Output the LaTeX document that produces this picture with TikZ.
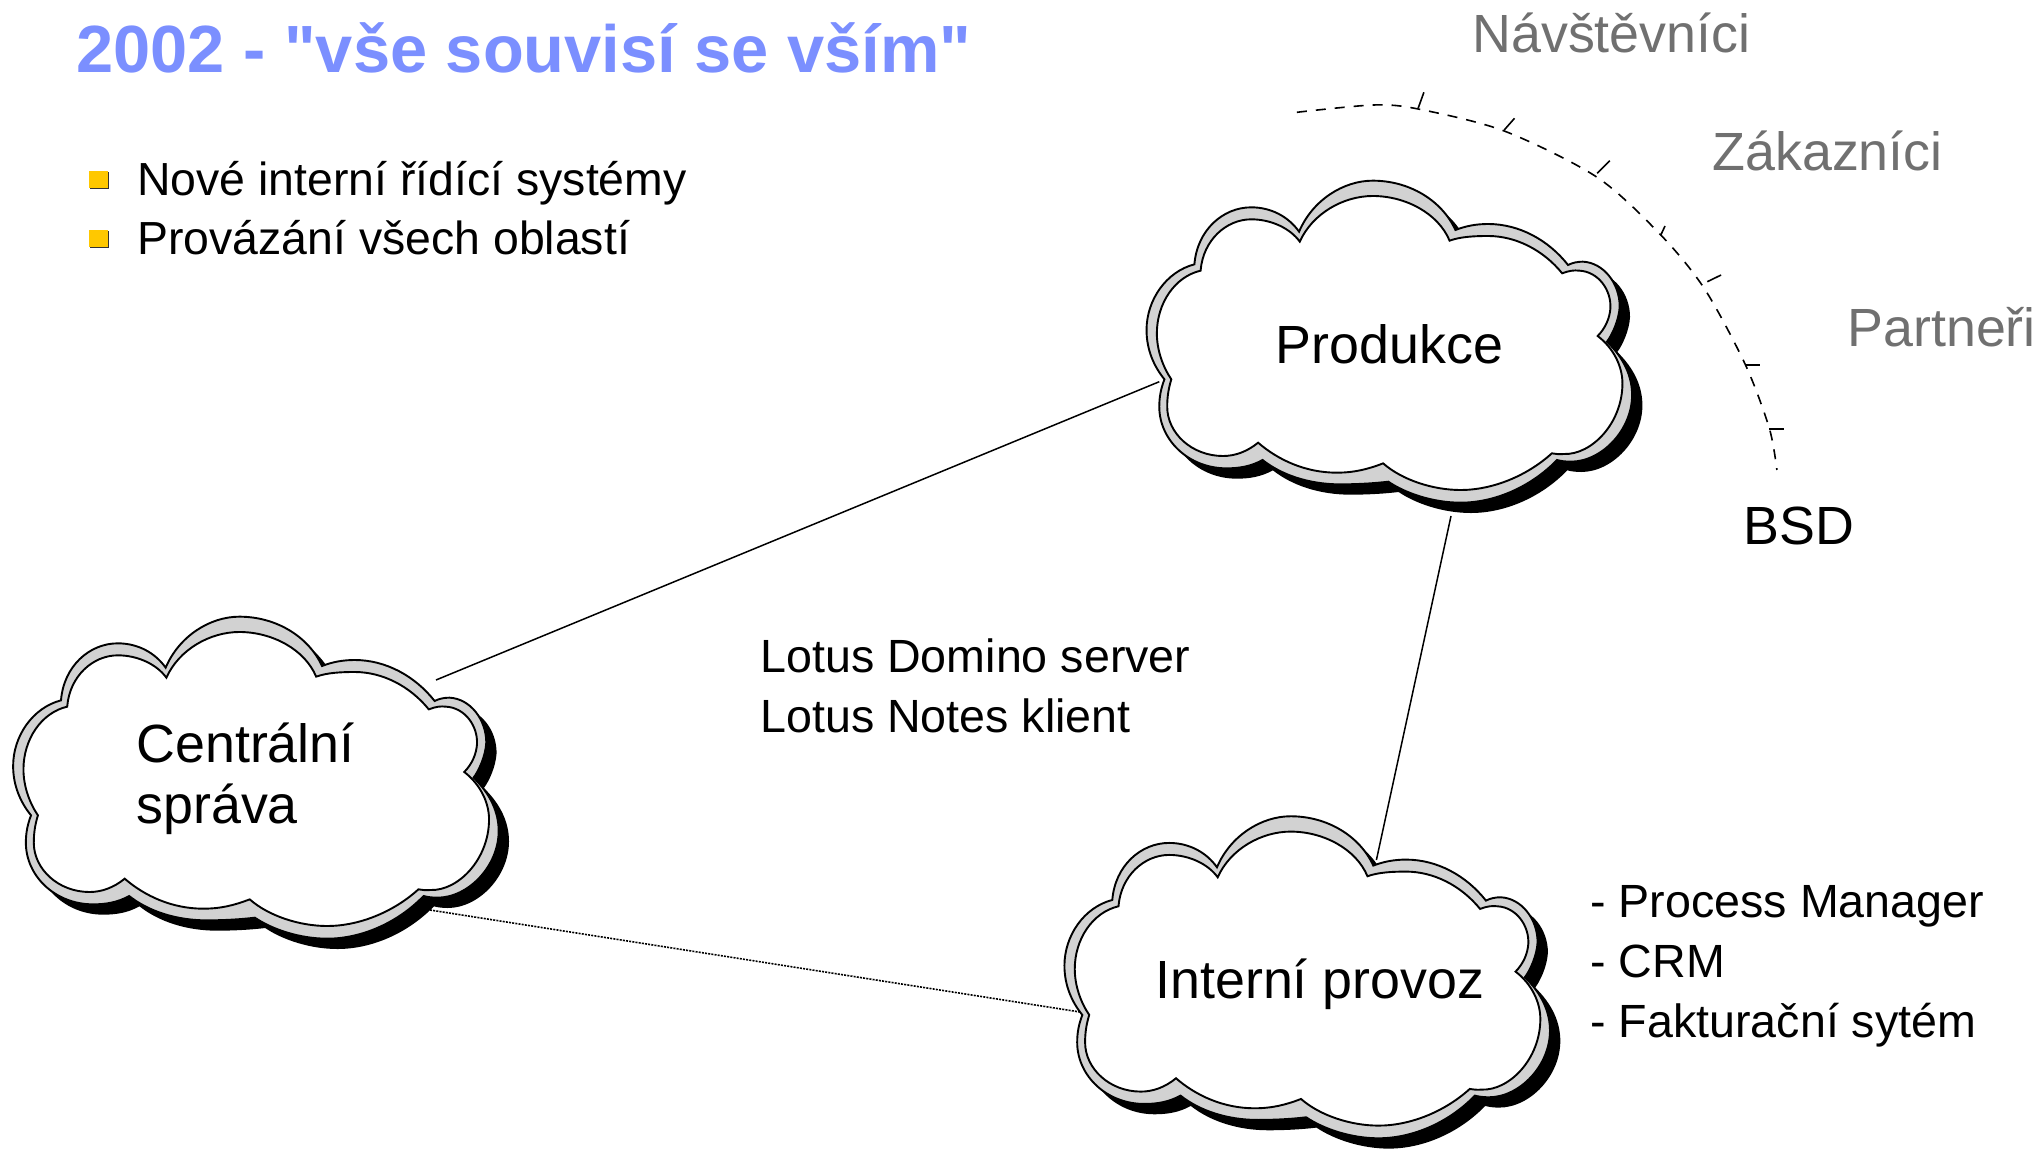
\documentclass[tikz,border=0pt]{standalone}
\usepackage{fontspec}
\setmainfont{Liberation Sans}
\newfontfamily\titlefont{Liberation Sans}
\usepackage{xcolor}
\usetikzlibrary{shadows}
\definecolor{titleblue}{HTML}{7B8FFF}
\definecolor{lightgrey}{HTML}{707070}
\definecolor{cloudgrey}{HTML}{D2D2D2}
\definecolor{bulletyellow}{HTML}{FFC800}
\tikzstyle{title}=[anchor=base west,inner sep=0,text=titleblue,font=\fontsize{33.4}{40}\titlefont\bfseries]
\tikzstyle{label}=[anchor=base west,inner sep=0,font=\fontsize{26.9}{30.4}\selectfont,align=left]
\tikzstyle{small}=[anchor=base west,inner sep=0,font=\fontsize{23.3}{30}\selectfont,align=left]
\tikzstyle{far}=[label,text=lightgrey]
\tikzstyle{bullet}=[rectangle,inner sep=0,minimum width=9.5pt,minimum height=8.5pt,fill=bulletyellow,drop shadow={shadow xshift=0.6pt,shadow yshift=-0.6pt,opacity=1,fill=black!80}]
\tikzstyle{link}=[draw,line width=0.75pt,black]
\tikzstyle{linkdot}=[draw,line width=0.8pt,dash pattern=on 1pt off 0.6pt,black]
\tikzstyle{edgeline}=[draw,line width=0.95pt,line join=miter,black]
\tikzstyle{arcdash}=[draw,line width=0.8pt,dash pattern=on 5pt off 4.5pt,black]
\tikzstyle{arctick}=[draw,line width=0.8pt,black]
\def\cloudouter{(187,343) .. controls (195,240) and (270,172) .. (352,172) .. controls (410,172) and (460,200) .. (491,245)
 .. controls (530,150) and (620,92) .. (705,92) .. controls (810,92) and (905,150) .. (945,240)
 .. controls (975,228) and (1005,222) .. (1040,222) .. controls (1130,222) and (1215,270) .. (1272,345)
 .. controls (1285,338) and (1300,335) .. (1315,335) .. controls (1375,338) and (1422,400) .. (1422,470) .. controls (1420,510) and (1400,555) .. (1385,575)
 .. controls (1435,625) and (1458,680) .. (1458,735) .. controls (1458,840) and (1370,935) .. (1280,935) .. controls (1265,935) and (1250,933) .. (1240,930)
 .. controls (1165,1010) and (1060,1058) .. (960,1058) .. controls (880,1058) and (800,1030) .. (750,995)
 .. controls (710,1000) and (660,1003) .. (610,1003) .. controls (520,1003) and (440,975) .. (385,930)
 .. controls (350,950) and (315,955) .. (280,955) .. controls (170,955) and (85,870) .. (85,770) .. controls (85,740) and (90,715) .. (100,688)
 .. controls (70,650) and (48,600) .. (48,540) .. controls (48,450) and (105,365) .. (187,343) -- cycle}
\def\cloudinner{(205,362) .. controls (212,270) and (280,208) .. (352,208) .. controls (410,208) and (465,235) .. (493,275)
 .. controls (530,190) and (620,138) .. (705,138) .. controls (800,138) and (895,190) .. (928,272)
 .. controls (960,260) and (1000,258) .. (1040,258) .. controls (1120,258) and (1200,300) .. (1255,370)
 .. controls (1275,362) and (1290,360) .. (1305,362) .. controls (1360,365) and (1398,420) .. (1395,475) .. controls (1393,505) and (1380,535) .. (1358,558)
 .. controls (1405,595) and (1430,650) .. (1430,700) .. controls (1430,820) and (1340,915) .. (1260,912) .. controls (1245,913) and (1235,912) .. (1225,910)
 .. controls (1150,980) and (1050,1020) .. (960,1020) .. controls (880,1020) and (790,990) .. (735,940)
 .. controls (690,958) and (650,968) .. (600,968) .. controls (510,968) and (430,930) .. (372,878)
 .. controls (340,905) and (305,918) .. (270,918) .. controls (180,918) and (108,850) .. (108,770) .. controls (108,740) and (112,715) .. (120,688)
 .. controls (95,650) and (78,600) .. (78,550) .. controls (78,460) and (130,380) .. (205,362) -- cycle}
\newcommand{\cloudshape}[2]{
	\begin{scope}[shift={(#1,#2)},x=0.17218pt,y=-0.16667pt]
		\fill[black,shift={(30,31)}] \cloudouter;
		\path[edgeline,fill=cloudgrey] \cloudouter;
		\path[edgeline,fill=white] \cloudinner;
	\end{scope}
}

\begin{document}
\begin{tikzpicture}[x=0.5pt,y=-0.5pt]
	\useasboundingbox (0,0) rectangle (2039,1149);

	\node[title] (tit) at (76,72.7) {2002 - "vše souvisí se vším"};

	\node[bullet] (bu1) at (98.5,179.5) {};
	\node[bullet] (bu2) at (98.5,238.5) {};
	\node[small,font=\fontsize{23.2}{30}\selectfont] (nov) at (137,196) {Nové interní řídící systémy};
	\node[small,font=\fontsize{23.2}{30}\selectfont] (pro) at (137,255) {Provázání všech oblastí};

% % % lines between the clouds
	\coordinate (prol) at (1159.3,381.7);
	\coordinate (cenr) at (436,680);
	\coordinate (prob) at (1451,516);
	\coordinate (intt) at (1376.4,860);
	\coordinate (cenb) at (430,910);
	\coordinate (intl) at (1080,1012);

	\path[link] (cenr) -- (prol);
	\path[link] (prob) -- (intt);
	\path[linkdot] (cenb) -- (intl);

% % % clouds
	\cloudshape{1130}{150}
	\cloudshape{-3.4}{586}
	\cloudshape{1047.9}{785.6}

	\node[label] (prd) at (1275.5,364) {Produkce};
	\node[label] (cen) at (136,823.5) {Centrální\\správa};
	\node[label] (int) at (1155,998) {Interní provoz};

	\node[small] (lot) at (760,732.4) {Lotus Domino server\\Lotus Notes klient};
	\node[small] (app) at (1590,1037.6) {- Process Manager\\- CRM\\- Fakturační sytém};

% % % outer circle
	\path[arcdash] plot[smooth] coordinates {(1296.9,112.3) (1373.3,105) (1418.1,109) (1504.2,131) (1597.1,177.3) (1660.8,235) (1704.6,289) (1745.5,365) (1769.3,428.3) (1776.9,470)};

	\foreach \xa/\ya/\xb/\yb in {1418.1/108.3/1423.9/92.3,1504.2/130/1514.5/118.3,1597.1/173.3/1609.9/160.7,1660.8/235/1665/226,1707.3/281.7/1721.1/275,1746/365/1760/365,1769.3/429.3/1783.8/429.3}
		\path[arctick] (\xa,\ya) -- (\xb,\yb);

	\node[far] (nav) at (1472,53) {Návštěvníci};
	\node[far] (zak) at (1712,171) {Zákazníci};
	\node[far] (par) at (1847,346.3) {Partneři};
	\node[label] (bsd) at (1743,544.3) {BSD};

\end{tikzpicture}
\end{document}
